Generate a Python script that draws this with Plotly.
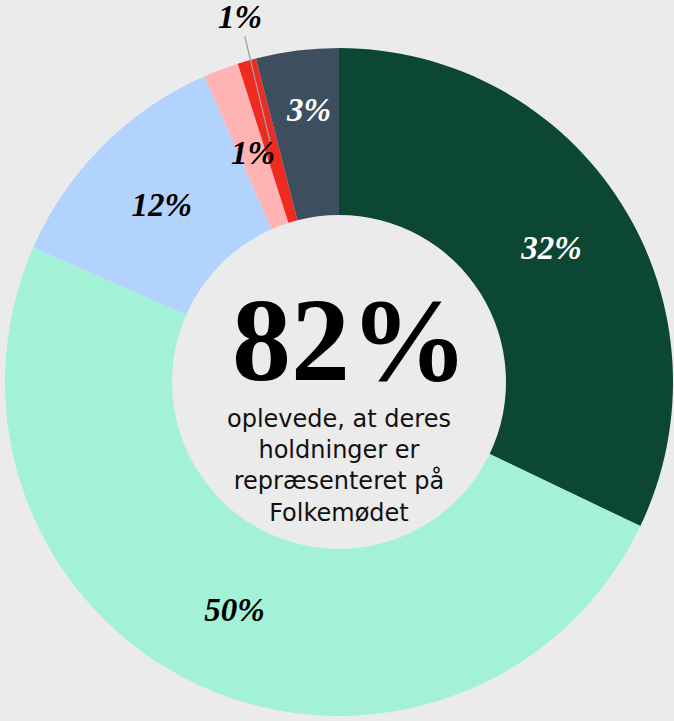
import math
import plotly.graph_objects as go

# data
categories = ["A", "B", "C", "D", "E", "F"]
shares = [32.1, 49.5, 11.8, 1.7, 0.9, 4.0]
label_text = ["32%", "50%", "12%", "1%", "1%", "3%"]
colors = ["#0c4733", "#a3f1d7", "#b3d3ff", "#ffb3b3", "#ef2a21", "#3d4f5e"]
text_colors = ["#ffffff", "#000000", "#000000", "#000000", "#000000", "#ffffff"]
text_positions = ["inside", "inside", "inside", "none", "none", "none"]

W, H = 674, 721
cx, cy, R = 339, 382, 334
HOLE = 0.5
LABEL_FONT = dict(family="Liberation Serif", size=33, style="italic", weight="bold")

fig = go.Figure(go.Pie(
    labels=categories,
    values=shares,
    text=label_text,
    textinfo="text",
    textposition=text_positions,
    insidetextorientation="horizontal",
    hole=HOLE,
    sort=False,
    direction="clockwise",
    rotation=0,
    marker=dict(colors=colors, line=dict(width=0)),
    textfont=dict(**LABEL_FONT, color=text_colors),
    domain=dict(x=[(cx - R) / W, (cx + R) / W], y=[(H - cy - R) / H, (H - cy + R) / H]),
    showlegend=False,
    hoverinfo="skip",
))

# positions of the small slices' labels, derived from the slice angles
total = sum(shares)
cum = 0.0
mid_angles = []
for v in shares:
    mid_angles.append((cum + v / 2) / total * 2 * math.pi)
    cum += v


def to_paper(angle, r):
    px = cx + r * math.sin(angle)
    py = cy - r * math.cos(angle)
    return px / W, 1 - py / H, px, py


ring_mid = R * (1 + HOLE) / 2

# pink slice: label at the middle of the ring
x, y, _, _ = to_paper(mid_angles[3], ring_mid - 6)
fig.add_annotation(x=x, y=y, xref="paper", yref="paper", text=label_text[3], showarrow=False,
                   xanchor="center", yanchor="middle",
                   font=dict(**LABEL_FONT, color=text_colors[3]))

# slate slice: label in the outer part of the ring
x, y, _, _ = to_paper(mid_angles[5], ring_mid + 24)
fig.add_annotation(x=x + 4 / W, y=y, xref="paper", yref="paper", text=label_text[5], showarrow=False,
                   xanchor="center", yanchor="middle",
                   font=dict(**LABEL_FONT, color=text_colors[5]))

# red slice: label outside with a leader line
hx, hy, hpx, hpy = to_paper(mid_angles[4], ring_mid)
_, _, tpx, tpy = to_paper(mid_angles[4], R + 46)
fig.add_annotation(x=hx, y=hy, xref="paper", yref="paper", text=label_text[4],
                   showarrow=True, arrowhead=0, arrowwidth=1.3, arrowcolor="#a0a0a0",
                   ax=tpx - hpx + 6, ay=tpy - hpy, standoff=0,
                   font=dict(**LABEL_FONT, color=text_colors[4]))

fig.add_annotation(
    x=350 / W, y=1 - 340 / H, xref="paper", yref="paper",
    text="82%", showarrow=False, xanchor="center", yanchor="middle",
    font=dict(family="Liberation Serif", size=118, color="#000000", weight="bold"),
)
fig.add_annotation(
    x=cx / W, y=1 - 466 / H, xref="paper", yref="paper",
    text="oplevede, at deres<br>holdninger er<br>repræsenteret på<br>Folkemødet",
    showarrow=False, align="center", xanchor="center", yanchor="middle",
    font=dict(family="DejaVu Sans", size=24, color="#111111"),
)

fig.update_layout(
    width=W, height=H,
    margin=dict(l=0, r=0, t=0, b=0),
    paper_bgcolor="#ebebeb",
    plot_bgcolor="#ebebeb",
    uniformtext=dict(minsize=33, mode="show"),
)

fig.write_html(
    "out.html",
    config={"displayModeBar": False},
    post_script="document.body.style.margin='0';document.body.style.overflow='hidden';",
)
